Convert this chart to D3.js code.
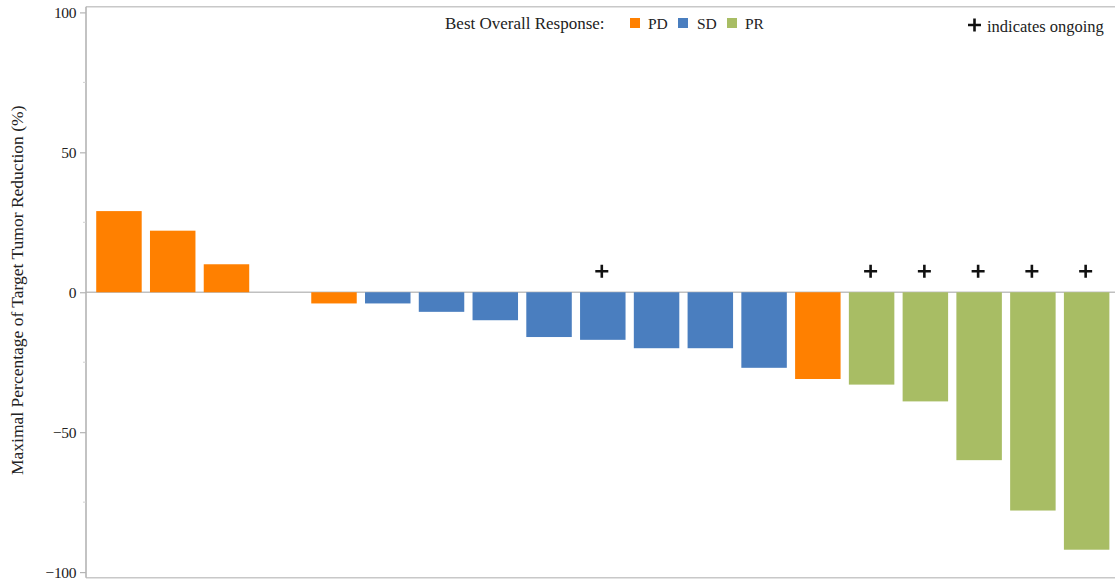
<!DOCTYPE html>
<html>
<head>
<meta charset="utf-8">
<script src="https://cdn.jsdelivr.net/npm/d3@7"></script>
<style>
  html, body { margin: 0; padding: 0; background: #fff; }
  svg { display: block; }
  svg text { font-family: "Liberation Serif", "Times New Roman", serif; }
</style>
</head>
<body>
<svg id="chart" width="1117" height="585"></svg>
<script>
// Waterfall data: one entry per patient, sorted by best change in target tumor size
const patients = ["P01","P02","P03","P04","P05","P06","P07","P08","P09","P10",
                  "P11","P12","P13","P14","P15","P16","P17","P18","P19"];
const changes  = [29, 22, 10, 0, -4, -4, -7, -10, -16, -17, -20, -20, -27, -31, -33, -39, -60, -78, -92];
const responses = ["PD","PD","PD","SD","PD","SD","SD","SD","SD","SD","SD","SD","SD","PD","PR","PR","PR","PR","PR"];
const ongoing  = [false,false,false,false,false,false,false,false,false,true,
                  false,false,false,false,true,true,true,true,true];
const responseTypes = ["PD","SD","PR"];
const yTicks = [-100, -50, 0, 50, 100];
const yMinorTicks = [-75, -25, 25, 75];

const serif = "Liberation Serif, Times New Roman, serif";

const colors = d3.scaleOrdinal()
  .domain(responseTypes)
  .range(["#FF8000", "#4A7EBF", "#A8BD64"]);

const svg = d3.select("#chart");
const plotLeft = 86, plotRight = 1119.6, plotTop = 6.8, plotBottom = 577.7;

const x = d3.scaleBand()
  .domain(patients)
  .range([plotLeft, plotRight])
  .paddingInner(0.154)
  .paddingOuter(0.19);

const y = d3.scaleLinear()
  .domain([-102, 102])
  .range([plotBottom, plotTop]);

const axisColor = "#b4b4b4";

// frame: top and bottom borders
svg.append("line")
  .attr("x1", plotLeft).attr("x2", 1115)
  .attr("y1", plotTop).attr("y2", plotTop)
  .attr("stroke", "#c8c8c8").attr("stroke-width", 1.6);
svg.append("line")
  .attr("x1", plotLeft).attr("x2", 1115)
  .attr("y1", plotBottom).attr("y2", plotBottom)
  .attr("stroke", "#c8c8c8").attr("stroke-width", 1.6);

// zero reference line
svg.append("line")
  .attr("x1", plotLeft).attr("x2", 1115)
  .attr("y1", y(0)).attr("y2", y(0))
  .attr("stroke", "#c0c0c0").attr("stroke-width", 1.4);

// y axis
const yAxis = d3.axisLeft(y)
  .tickValues(yTicks)
  .tickSize(6)
  .tickPadding(4)
  .tickFormat(d3.format("d"));

const gy = svg.append("g")
  .attr("transform", `translate(${plotLeft},0)`)
  .call(yAxis)
  .attr("font-family", serif)
  .attr("font-size", 15.5);
gy.select(".domain").attr("stroke", axisColor).attr("stroke-width", 1.6)
  .attr("d", `M0,${plotTop}V${plotBottom}`);
gy.selectAll(".tick line").attr("stroke", axisColor).attr("stroke-width", 1.2);
gy.selectAll(".tick text")
  .attr("fill", "#222")
  .attr("letter-spacing", "-0.4");

// minor ticks
svg.append("g")
  .selectAll("line")
  .data(yMinorTicks)
  .join("line")
  .attr("x1", plotLeft - 3).attr("x2", plotLeft)
  .attr("y1", d => y(d)).attr("y2", d => y(d))
  .attr("stroke", "#d0d0d0").attr("stroke-width", 1);

// y axis title
svg.append("text")
  .attr("transform", `translate(23,${y(0) - 2}) rotate(-90)`)
  .attr("text-anchor", "middle")
  .attr("fill", "#222")
  .attr("font-size", 17.5)
  .text("Maximal Percentage of Target Tumor Reduction (%)");

// bars
svg.append("g")
  .selectAll("rect")
  .data(patients)
  .join("rect")
  .attr("x", d => x(d))
  .attr("width", x.bandwidth())
  .attr("y", (d, i) => y(Math.max(0, changes[i])))
  .attr("height", (d, i) => Math.abs(y(changes[i]) - y(0)))
  .attr("fill", (d, i) => colors(responses[i]));

// ongoing markers
const plus = (g, cx, cy, s) => {
  g.append("path")
    .attr("d", `M${cx - s},${cy}H${cx + s}M${cx},${cy - s}V${cy + s}`)
    .attr("stroke", "#111").attr("stroke-width", 2.6).attr("fill", "none");
};
const markers = svg.append("g");
patients.forEach((p, i) => {
  if (ongoing[i]) plus(markers, x(p) + x.bandwidth() / 2 - 1, y(0) - 21, 6.5);
});

// legend
const legend = svg.append("g").attr("fill", "#222").attr("font-size", 17);
legend.append("text").attr("x", 445).attr("y", 29).text("Best Overall Response:");
const legendItems = [
  { key: "PD", sx: 630, tx: 648 },
  { key: "SD", sx: 678, tx: 697 },
  { key: "PR", sx: 727, tx: 745 }
];
legendItems.forEach(it => {
  legend.append("rect")
    .attr("x", it.sx).attr("y", 18).attr("width", 10).attr("height", 10)
    .attr("fill", colors(it.key));
  legend.append("text").attr("x", it.tx).attr("y", 29)
    .attr("font-size", 15.5).text(it.key);
});

// ongoing note
plus(svg, 974.5, 25, 6.5);
svg.append("text")
  .attr("x", 987).attr("y", 32)
  .attr("fill", "#222")
  .attr("font-size", 16.5)
  .text("indicates ongoing");
</script>
</body>
</html>
